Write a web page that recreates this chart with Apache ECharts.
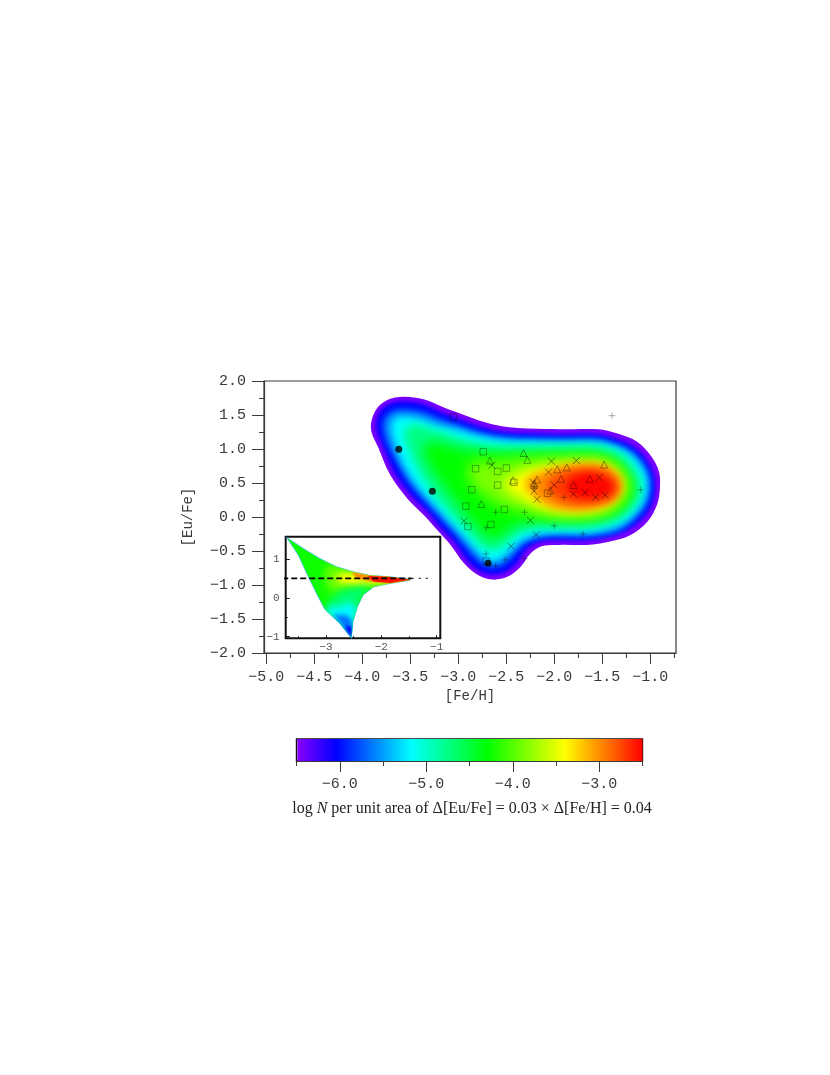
<!DOCTYPE html>
<html><head><meta charset="utf-8">
<style>html,body{margin:0;padding:0;background:#fff}#c{width:830px;height:1075px}</style>
<script src="https://cdn.jsdelivr.net/npm/echarts@6/dist/echarts.min.js"></script>
</head><body><div id="c"></div>
<script>
// ---- colour scale
const scaleLevels=[-6.5,-6.05,-5.18,-4.3,-3.4,-2.5];
const scaleColors=['#8a00ff','#0000ff','#00ffff','#00ff00','#ffff00','#ff0000'];
// ---- ticks
const mainXTicks=[-5,-4.5,-4,-3.5,-3,-2.5,-2,-1.5,-1];
const mainXMinor=[-4.75,-4.25,-3.75,-3.25,-2.75,-2.25,-1.75,-1.25,-0.75];
const mainYTicks=[-2,-1.5,-1,-0.5,0,0.5,1,1.5,2];
const mainYMinor=[-1.75,-1.25,-0.75,-0.25,0.25,0.75,1.25,1.75];
const insetXTicks=[-3,-2,-1];
const insetXMinor=[-3.5,-2.5,-1.5];
const insetYTicks=[-1,0,1];
const insetYMinor=[-0.5,0.5];
const barTicks=[-6,-5,-4,-3];
const barMinor=[-6.5,-5.5,-4.5,-3.5,-2.5];
// ---- density contours [Fe/H, Eu/Fe], outermost first
const contourLevels=[-6.45,-6.05,-5.6,-5.18,-4.75,-4.3,-3.85,-3.4,-3.0,-2.72,-2.52];
const contourEdge=[[-3.57,1.77],[-3.36,1.73],[-3.15,1.61],[-2.94,1.5],[-2.74,1.4],[-2.53,1.33],[-2.28,1.3],[-1.94,1.29],[-1.54,1.29],[-1.35,1.23],[-1.14,1.11],[-1,0.91],[-0.91,0.67],[-0.9,0.42],[-0.93,0.18],[-1.03,-0.07],[-1.21,-0.27],[-1.42,-0.36],[-1.66,-0.41],[-1.94,-0.41],[-2.13,-0.43],[-2.25,-0.54],[-2.35,-0.73],[-2.49,-0.88],[-2.65,-0.92],[-2.8,-0.85],[-2.94,-0.68],[-3.08,-0.41],[-3.2,-0.22],[-3.36,0.03],[-3.53,0.27],[-3.71,0.62],[-3.83,1.01],[-3.91,1.3],[-3.86,1.57],[-3.74,1.72]];
const contourBlue=[[-3.57,1.7],[-3.37,1.66],[-3.165,1.53],[-2.955,1.42],[-2.755,1.32],[-2.53,1.25],[-2.285,1.23],[-1.94,1.215],[-1.55,1.215],[-1.37,1.155],[-1.18,1.04],[-1.05,0.865],[-0.97,0.65],[-0.95,0.42],[-0.98,0.195],[-1.08,-0.02],[-1.25,-0.2],[-1.44,-0.29],[-1.67,-0.34],[-1.94,-0.34],[-2.145,-0.36],[-2.295,-0.48],[-2.395,-0.68],[-2.51,-0.805],[-2.65,-0.845],[-2.78,-0.79],[-2.91,-0.63],[-3.04,-0.365],[-3.17,-0.175],[-3.32,0.08],[-3.49,0.32],[-3.665,0.655],[-3.78,1.025],[-3.855,1.3],[-3.825,1.53],[-3.72,1.66]];
const contourAzure=[[-3.57,1.58],[-3.39,1.55],[-3.19,1.44],[-2.97,1.34],[-2.76,1.24],[-2.53,1.18],[-2.28,1.16],[-1.94,1.15],[-1.56,1.15],[-1.39,1.09],[-1.21,0.98],[-1.08,0.8],[-1.01,0.6],[-1,0.38],[-1.05,0.16],[-1.18,-0.05],[-1.36,-0.22],[-1.66,-0.28],[-1.94,-0.28],[-2.15,-0.3],[-2.32,-0.4],[-2.43,-0.57],[-2.53,-0.7],[-2.65,-0.74],[-2.76,-0.68],[-2.89,-0.5],[-3.04,-0.24],[-3.19,-0.01],[-3.35,0.24],[-3.52,0.52],[-3.66,0.86],[-3.76,1.16],[-3.78,1.4],[-3.7,1.55]];
const contourCyan=[[-3.58,1.48],[-3.4,1.44],[-3.22,1.35],[-2.98,1.27],[-2.75,1.18],[-2.53,1.13],[-2.25,1.11],[-1.94,1.1],[-1.58,1.1],[-1.4,1.05],[-1.22,0.93],[-1.1,0.75],[-1.04,0.55],[-1.05,0.32],[-1.12,0.12],[-1.27,-0.08],[-1.45,-0.18],[-1.66,-0.23],[-1.94,-0.23],[-2.15,-0.25],[-2.33,-0.33],[-2.45,-0.48],[-2.55,-0.6],[-2.65,-0.65],[-2.75,-0.58],[-2.88,-0.38],[-3.05,-0.13],[-3.22,0.14],[-3.38,0.38],[-3.55,0.72],[-3.66,1.08],[-3.7,1.33],[-3.66,1.45]];
const contourSpring=[[-3.48,1.36],[-3.33,1.32],[-3.1,1.21],[-2.9,1.12],[-2.7,1.06],[-2.45,1.03],[-2.2,1.03],[-1.94,1.03],[-1.6,1.03],[-1.42,0.98],[-1.27,0.87],[-1.17,0.7],[-1.11,0.5],[-1.12,0.32],[-1.2,0.14],[-1.34,-0.02],[-1.5,-0.11],[-1.7,-0.15],[-1.95,-0.15],[-2.17,-0.16],[-2.37,-0.24],[-2.5,-0.4],[-2.65,-0.5],[-2.77,-0.42],[-2.9,-0.22],[-3.08,0.05],[-3.25,0.33],[-3.42,0.7],[-3.53,1.05],[-3.56,1.27]];
const contourGreen=[[-3.25,1.1],[-3.05,1.03],[-2.8,0.97],[-2.5,0.96],[-2.2,0.96],[-1.9,0.96],[-1.6,0.96],[-1.42,0.9],[-1.3,0.78],[-1.2,0.6],[-1.16,0.43],[-1.2,0.24],[-1.32,0.07],[-1.5,-0.03],[-1.7,-0.07],[-1.95,-0.07],[-2.2,-0.07],[-2.4,-0.12],[-2.55,-0.27],[-2.66,-0.33],[-2.78,-0.18],[-2.92,0.03],[-3.05,0.27],[-3.2,0.55],[-3.33,0.85],[-3.36,1.03]];
const contourLime=[[-2.85,0.8],[-2.6,0.82],[-2.3,0.86],[-1.95,0.88],[-1.6,0.88],[-1.42,0.82],[-1.3,0.7],[-1.23,0.52],[-1.23,0.36],[-1.3,0.2],[-1.45,0.06],[-1.7,0],[-1.95,0],[-2.2,0.04],[-2.4,0.1],[-2.6,0.2],[-2.8,0.4],[-2.9,0.62]];
const contourYellow=[[-2.53,0.47],[-2.39,0.64],[-2.18,0.74],[-1.8,0.8],[-1.52,0.8],[-1.35,0.67],[-1.28,0.47],[-1.35,0.25],[-1.52,0.1],[-1.8,0.05],[-2.08,0.1],[-2.32,0.25]];
const contourOrange=[[-2.3,0.5],[-2.12,0.67],[-1.85,0.77],[-1.52,0.77],[-1.36,0.65],[-1.3,0.47],[-1.36,0.27],[-1.52,0.15],[-1.8,0.1],[-2.05,0.16],[-2.2,0.3]];
const contourVermilion=[[-2.08,0.47],[-1.95,0.63],[-1.72,0.71],[-1.5,0.69],[-1.38,0.58],[-1.33,0.45],[-1.38,0.29],[-1.55,0.2],[-1.8,0.19],[-1.98,0.28]];
const contourRed=[[-1.88,0.46],[-1.75,0.62],[-1.55,0.62],[-1.42,0.52],[-1.4,0.4],[-1.5,0.3],[-1.7,0.28],[-1.83,0.34]];
// ---- stars
const starsSquare=[[-3.05,1.47],[-2.74,0.96],[-2.82,0.71],[-2.59,0.67],[-2.5,0.72],[-2.59,0.47],[-2.86,0.4],[-2.42,0.51],[-2.92,0.16],[-2.52,0.11],[-2.66,-0.11],[-2.9,-0.14],[-2.07,0.35],[-2.71,-0.65]];
const starsTriangle=[[-2.67,0.83],[-2.32,0.94],[-2.28,0.84],[-1.97,0.7],[-1.87,0.73],[-1.48,0.77],[-2.43,0.54],[-2.18,0.55],[-1.93,0.56],[-1.8,0.47],[-1.63,0.56],[-2.76,0.19],[-2.04,0.39],[-2.21,0.49]];
const starsCross=[[-2.65,0.76],[-2.03,0.82],[-1.77,0.83],[-2.06,0.66],[-1.53,0.58],[-2.22,0.51],[-2.21,0.38],[-2,0.47],[-2.18,0.26],[-1.8,0.34],[-1.68,0.36],[-1.57,0.29],[-1.47,0.32],[-2.94,-0.06],[-2.25,-0.05],[-2.19,-0.26],[-2.45,-0.43]];
const starsPlus=[[-1.4,1.49],[-1.1,0.4],[-1.9,0.29],[-2.61,0.07],[-2.31,0.07],[-2,-0.13],[-2.71,-0.16],[-1.7,-0.25],[-2.71,-0.54],[-2.51,-0.63],[-2.31,-0.61],[-2.61,-0.72],[-2.21,0.42],[-2.21,0.45]];
const starsDot=[[-3.62,0.995],[-3.27,0.38],[-2.69,-0.68]];
// ---- inset
const insetLevels=[-4.25,-3.9,-3.4,-3.0,-2.55,-4.7,-5.2,-5.65,-6.05];
const insetOutline=[[-3.71,1.55],[-3.41,1.27],[-3.11,1.01],[-2.81,0.8],[-2.51,0.67],[-2.21,0.58],[-1.84,0.54],[-1.48,0.48],[-1.48,0.45],[-1.84,0.37],[-2.14,0.28],[-2.33,0.07],[-2.43,-0.23],[-2.51,-0.61],[-2.54,-1.04],[-2.75,-0.66],[-3.02,-0.3],[-3.17,0.11],[-3.35,0.63],[-3.5,1.1]];
const insetLime=[[-2.96,0.88],[-2.51,0.67],[-2.21,0.58],[-1.84,0.54],[-1.48,0.48],[-1.48,0.45],[-1.84,0.37],[-2.21,0.33],[-2.57,0.27],[-2.87,0.11],[-2.99,0.33],[-3.02,0.63]];
const insetYellow=[[-2.75,0.63],[-2.51,0.64],[-2.21,0.58],[-1.84,0.53],[-1.48,0.48],[-1.48,0.45],[-1.84,0.39],[-2.21,0.34],[-2.51,0.33],[-2.72,0.37],[-2.81,0.5]];
const insetOrange=[[-2.54,0.66],[-2.21,0.58],[-1.84,0.54],[-1.48,0.48],[-1.48,0.45],[-1.84,0.38],[-2.21,0.42],[-2.45,0.5]];
const insetRed=[[-2.25,0.56],[-1.84,0.54],[-1.46,0.47],[-1.84,0.38],[-2.15,0.42]];
const insetSpring=[[-3.02,-0.3],[-2.9,-0.02],[-2.72,0.18],[-2.45,0.28],[-2.14,0.28],[-2.33,0.07],[-2.43,-0.23],[-2.51,-0.61],[-2.54,-1.04],[-2.75,-0.66]];
const insetCyan=[[-3.02,-0.3],[-2.87,-0.19],[-2.72,-0.27],[-2.66,-0.1],[-2.43,-0.23],[-2.51,-0.61],[-2.54,-1.04],[-2.75,-0.66]];
const insetAzure=[[-2.87,-0.44],[-2.63,-0.44],[-2.52,-0.61],[-2.54,-1.04],[-2.72,-0.7]];
const insetBlue=[[-2.66,-0.74],[-2.54,-0.74],[-2.54,-1.04]];
const insetDashed=[[-3.79,0.5],[-1.45,0.5]];
const insetDotted=[[-1.45,0.5],[-1.07,0.5]];
const caption=['log ','N',' per unit area of Δ[Eu/Fe] = 0.03 × Δ[Fe/H] = 0.04'];

const contours=[contourEdge,contourBlue,contourAzure,contourCyan,contourSpring,contourGreen,contourLime,contourYellow,contourOrange,contourVermilion,contourRed];
const contourBlur=[0,4,6,7,10,12,14,12,9,8,7];
const insetPolys=[insetOutline,insetLime,insetYellow,insetOrange,insetRed,insetSpring,insetCyan,insetAzure,insetBlue];
const insetBlur=[0,8,6,2,1,8,6,4,3];
const OFF=3000; // soft band edges: the shape sits off-canvas and only its blurred shadow lands on the plot

function hex(c){return [1,3,5].map(i=>parseInt(c.substr(i,2),16));}
function levelColor(v){
  for(let i=1;i<scaleLevels.length;i++){
    if(v<=scaleLevels[i]){
      const t=Math.max(0,(v-scaleLevels[i-1])/(scaleLevels[i]-scaleLevels[i-1]));
      const a=hex(scaleColors[i-1]),b=hex(scaleColors[i]);
      return 'rgb('+a.map((x,k)=>Math.round(x+(b[k]-x)*t)).join(',')+')';
    }
  }
  return scaleColors[scaleColors.length-1];
}
const minus=s=>s.replace('-','\u2212');
const mono='"Liberation Mono"';
const grey='#3a3a3a';
const chart=echarts.init(document.getElementById('c'),null,{renderer:'canvas',width:830,height:1075});
const frame={show:true,onZero:false,lineStyle:{color:grey,width:1.2}};
const hidden={show:false,onZero:false};
const X=(gridIndex,min,max,major,minor,margin,opts)=>[
 Object.assign({type:'value',gridIndex,min,max,position:'bottom',splitLine:{show:false},axisLine:frame,
  axisTick:{show:true,customValues:major,length:11,lineStyle:{color:grey,width:1}},
  axisLabel:{show:true,customValues:major,fontFamily:mono,fontSize:15,color:grey,margin,formatter:v=>minus(v.toFixed(1))}},opts||{}),
 {type:'value',gridIndex,min,max,position:'bottom',splitLine:{show:false},axisLine:hidden,
  axisTick:{show:true,customValues:minor,length:5,lineStyle:{color:grey,width:1}},axisLabel:{show:false}}
];
const option={
 animation:false,backgroundColor:'#fff',
 title:{text:'{n|'+caption[0]+'}{i|'+caption[1]+'}{n|'+caption[2]+'}',left:467,top:796,textAlign:'center',
  textStyle:{fontWeight:'normal',rich:{n:{fontFamily:'"Liberation Serif"',fontWeight:'normal',fontSize:16,color:'#222'},i:{fontFamily:'"Liberation Serif"',fontWeight:'normal',fontStyle:'italic',fontSize:16,color:'#222'}}}},
 grid:[
  {left:264,top:381,width:412,height:272,show:true,borderColor:grey,borderWidth:1.2,backgroundColor:'#fff'},
  {left:285.7,top:536.7,width:154.6,height:101.6,show:true,borderColor:'#111',borderWidth:2,backgroundColor:'#fff'},
  {left:296.5,top:739,width:346,height:22,show:true,borderColor:'#111',borderWidth:1.4}
 ],
 xAxis:[
  ...X(0,-5.024,-0.732,mainXTicks,mainXMinor,17,{name:'[Fe/H]',nameLocation:'middle',nameGap:36,nameTextStyle:{fontFamily:mono,fontSize:14,color:grey}}),
  {type:'value',gridIndex:1,min:-3.727,max:-0.935,position:'bottom',splitLine:{show:false},axisLine:hidden,
   axisTick:{show:true,inside:true,customValues:insetXTicks,length:3,lineStyle:{color:'#111'}},
   axisLabel:{show:true,customValues:insetXTicks,fontFamily:mono,fontSize:11,color:'#555',margin:3,formatter:v=>minus(String(v))}},
  {type:'value',gridIndex:1,min:-3.727,max:-0.935,position:'bottom',splitLine:{show:false},axisLine:hidden,
   axisTick:{show:true,inside:true,customValues:insetXMinor,length:2,lineStyle:{color:'#111'}},axisLabel:{show:false}},
  ...X(2,-6.5,-2.5,barTicks,barMinor,16,{})
 ],
 yAxis:[
  {type:'value',gridIndex:0,min:-2,max:2,position:'left',splitLine:{show:false},axisLine:frame,
   axisTick:{show:true,customValues:mainYTicks,length:12,lineStyle:{color:grey,width:1}},
   axisLabel:{show:true,customValues:mainYTicks,fontFamily:mono,fontSize:15,color:grey,margin:18,formatter:v=>minus(v.toFixed(1))},
   name:'[Eu/Fe]',nameLocation:'middle',nameGap:69,nameRotate:90,nameTextStyle:{fontFamily:mono,fontSize:14,color:grey}},
  {type:'value',gridIndex:0,min:-2,max:2,position:'left',splitLine:{show:false},axisLine:hidden,
   axisTick:{show:true,customValues:mainYMinor,length:5,lineStyle:{color:grey,width:1}},axisLabel:{show:false}},
  {type:'value',gridIndex:1,min:-1.04,max:1.57,position:'left',splitLine:{show:false},axisLine:hidden,
   axisTick:{show:true,inside:true,customValues:insetYTicks,length:4,lineStyle:{color:'#111'}},
   axisLabel:{show:true,customValues:insetYTicks,fontFamily:mono,fontSize:11,color:'#555',margin:6,formatter:v=>minus(String(v))}},
  {type:'value',gridIndex:1,min:-1.04,max:1.57,position:'left',splitLine:{show:false},axisLine:hidden,
   axisTick:{show:true,inside:true,customValues:insetYMinor,length:2,lineStyle:{color:'#111'}},axisLabel:{show:false}},
  {type:'value',gridIndex:2,min:0,max:1,show:false}
 ],
 series:[
  {type:'custom',name:'density',xAxisIndex:0,yAxisIndex:0,silent:true,z:2,
   data:contourLevels.map((v,i)=>[i,v]),encode:{x:0,y:1},clip:false,
   renderItem(p,api){
    const i=api.value(0),col=levelColor(api.value(1));
    if(i===0) return {type:'polygon',shape:{points:contours[i].map(q=>api.coord(q)),smooth:0.35},style:{fill:col}};
    return {type:'polygon',shape:{points:contours[i].map(q=>{const c=api.coord(q);return [c[0]-OFF,c[1]];}),smooth:0.35},
     style:{fill:col,shadowBlur:contourBlur[i],shadowColor:col,shadowOffsetX:OFF}};
   }},
  {type:'custom',name:'inset',xAxisIndex:2,yAxisIndex:2,silent:true,z:2,
   data:insetLevels.map((v,i)=>[i,v]),encode:{x:0,y:1},clip:false,
   renderItem(p,api){
    const i=api.value(0),col=levelColor(api.value(1));
    if(i===0) return {type:'polygon',shape:{points:insetPolys[i].map(q=>api.coord(q))},style:{fill:col,stroke:'#30b0f0',lineWidth:0.7}};
    return {type:'polygon',shape:{points:insetPolys[i].map(q=>{const c=api.coord(q);return [c[0]-OFF,c[1]];})},
     clipPath:{type:'polygon',shape:{points:insetOutline.map(q=>api.coord(q))}},
     style:{fill:col,shadowBlur:insetBlur[i],shadowColor:col,shadowOffsetX:OFF}};
   }},
  {type:'line',xAxisIndex:2,yAxisIndex:2,data:insetDashed,showSymbol:false,clip:false,z:4,lineStyle:{color:'#000',width:1.8,type:[6,3]}},
  {type:'line',xAxisIndex:2,yAxisIndex:2,data:insetDotted,showSymbol:false,clip:false,z:4,lineStyle:{color:'#333',width:1.4,type:[2,5]}},
  {type:'scatter',xAxisIndex:0,yAxisIndex:0,data:starsSquare,symbol:'rect',symbolSize:6.5,z:5,
   itemStyle:{color:'rgba(0,0,0,0)',borderColor:'rgba(0,0,0,0.7)',borderWidth:0.6}},
  {type:'scatter',xAxisIndex:0,yAxisIndex:0,data:starsTriangle,symbol:'path://M5 0L10 10L0 10Z',symbolSize:7,z:5,
   itemStyle:{color:'rgba(0,0,0,0)',borderColor:'rgba(0,0,0,0.75)',borderWidth:0.6}},
  {type:'scatter',xAxisIndex:0,yAxisIndex:0,data:starsCross,symbol:'path://M0 0L10 10M10 0L0 10',symbolSize:7,z:5,
   itemStyle:{color:'rgba(0,0,0,0)',borderColor:'rgba(0,0,0,0.8)',borderWidth:0.7}},
  {type:'scatter',xAxisIndex:0,yAxisIndex:0,data:starsPlus,symbol:'path://M5 0L5 10M0 5L10 5',symbolSize:6.5,z:5,
   itemStyle:{color:'rgba(0,0,0,0)',borderColor:'rgba(0,0,0,0.55)',borderWidth:0.7}},
  {type:'scatter',xAxisIndex:0,yAxisIndex:0,data:starsDot,symbol:'circle',symbolSize:7,z:6,itemStyle:{color:'#000'}},
  {type:'custom',name:'colour bar',xAxisIndex:4,yAxisIndex:4,silent:true,z:2,
   data:[[-6.49,0,-2.5,1]],encode:{x:[0,2],y:[1,3]},
   renderItem(p,api){
    const a=api.coord([api.value(0),api.value(1)]),b=api.coord([api.value(2),api.value(3)]);
    const lo=scaleLevels[0],hi=scaleLevels[scaleLevels.length-1];
    return {type:'rect',shape:{x:a[0],y:b[1],width:b[0]-a[0],height:a[1]-b[1]},
     style:{fill:new echarts.graphic.LinearGradient(0,0,1,0,scaleLevels.map((v,i)=>({offset:(v-lo)/(hi-lo),color:scaleColors[i]})))}};
   }}
 ]
};
chart.setOption(option);
</script></body></html>
